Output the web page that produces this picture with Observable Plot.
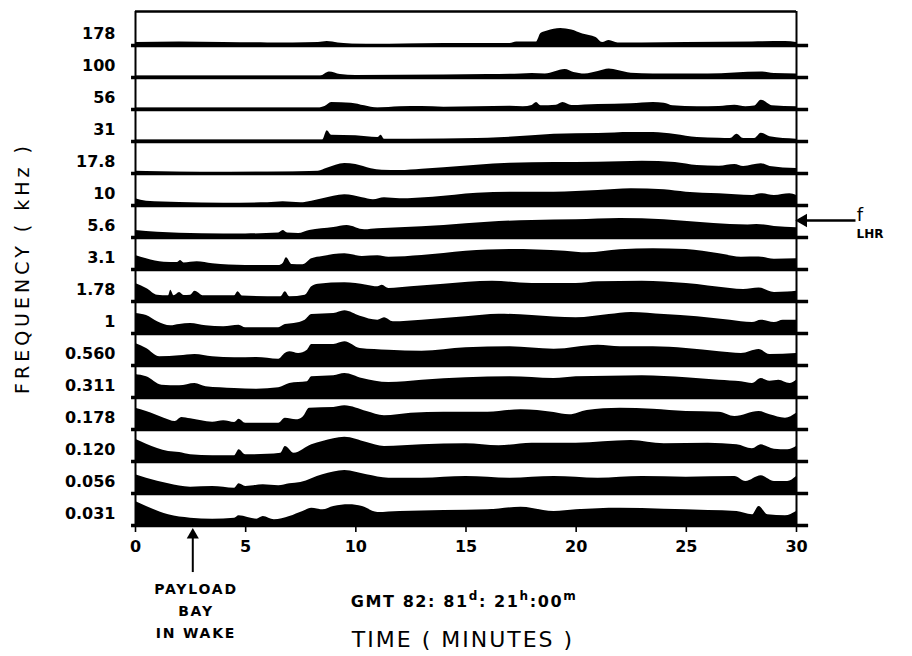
<!DOCTYPE html>
<html>
<head>
<meta charset="utf-8">
<script src="https://cdn.jsdelivr.net/npm/d3@7"></script>
<script src="https://cdn.jsdelivr.net/npm/@observablehq/plot@0.6"></script>
<style>
  html, body { margin: 0; padding: 0; background: #fff; }
  #chart { width: 912px; height: 656px; }
  svg text { font-family: "DejaVu Sans", sans-serif; }
</style>
</head>
<body>
<div id="chart"></div>
<script>
// Frequency channel labels (top to bottom), kHz
const freqLabels = ["178","100","56","31","17.8","10","5.6","3.1","1.78","1","0.560","0.311","0.178","0.120","0.056","0.031"];
// Time axis ticks (minutes)
const xTicks = [0, 5, 10, 15, 20, 25, 30];

// Relative wave intensity per channel: [time (min), level]
const s178 = [[0,3],[2,3.5],[4,3],[6,2.5],[8.3,3],[8.7,4],[9.2,2.5],[10.5,1],[11.5,1],[12.5,1.5],[14,2],[17,2],[17.3,3.5],[18.2,3.5],[18.4,12],[18.7,14.5],[19.3,17],[19.8,15.5],[20.3,11.5],[20.9,8],[21.2,3],[21.5,5],[21.9,2.5],[23,2.5],[25,3],[28,3.5],[29.5,4],[30,3]];
const s100 = [[0,1.5],[8.4,1.5],[8.8,5.5],[9.3,3],[10,2],[14,2.5],[16,3],[17.5,3.5],[18,4],[18.6,3.5],[19.5,8],[19.9,5],[20.4,3.5],[21,6],[21.5,8.5],[21.9,7],[22.5,4.3],[23.5,3.5],[26,3.5],[28.4,5.5],[29,4],[30,3.5]];
const s56 = [[0,1.5],[8.3,1.5],[8.6,3],[8.9,7],[9.8,6.3],[10.4,3.7],[11,1.5],[12,2.7],[13,3],[14,2.3],[15.5,2.7],[17,3.3],[17.6,2.7],[18,4],[18.2,7],[18.4,3.7],[19.1,4.3],[19.4,7],[19.8,4],[21,5],[22.5,5.7],[23.5,7],[24,6.3],[24.4,3.7],[25.5,2.7],[26.5,3],[27.2,4.3],[27.7,2.7],[28.1,3.5],[28.4,9.3],[28.9,3.7],[30,2.7]];
const s31 = [[0,1.5],[8.5,1.5],[8.7,10.7],[8.9,6.3],[10,5.7],[11,4],[11.15,6.3],[11.3,2.3],[12.5,2.3],[15.5,3],[16.5,3.7],[18,5.7],[19,7.3],[21,8],[22.5,9],[23.5,9],[24.5,7],[25.5,4],[26.5,3.3],[27,3],[27.3,7.3],[27.6,3],[28.1,3],[28.4,8.3],[28.8,4.7],[30,2.3]];
const s17_8 = [[0,2.3],[1,1.7],[3,1],[6,1.3],[8.3,2.3],[8.7,5.3],[9.5,10],[10,9],[10.7,4.7],[11.2,3.3],[12,3],[13,4.3],[14,5.7],[15.5,8.3],[17,10.3],[19,11],[21,11.3],[23,12.3],[24.5,11],[25.5,8],[26.5,7.3],[27.2,9],[27.6,7],[28.4,9.7],[28.8,7],[30,5]];
const s10 = [[0,6.7],[0.5,4.3],[2,3],[4,2.3],[6,2.7],[6.7,3.7],[7.5,2.7],[8,4.3],[8.5,6.7],[9.5,10.7],[10.3,7.7],[10.8,5.7],[11.3,7.7],[12,6.7],[13.5,8.3],[15.5,12.3],[17.5,13.3],[19,13.3],[21,15],[22.5,16.7],[24,15.7],[25,13.3],[26.5,11.7],[28,10],[28.4,11.7],[29,10],[29.7,11.7],[30,10]];
const s5_6 = [[0,7],[1,5.3],[3,3.7],[5,3.5],[6.5,4.5],[6.7,7],[6.9,4.5],[7.4,4],[7.9,7],[9,10],[9.6,12],[10.4,7.7],[11,8.7],[12,9.7],[14,12],[16,15.3],[18,17],[20,17.7],[22,19],[24,17.7],[25.5,15.3],[27,13],[27.8,12.5],[28.2,13],[29,11],[30,9.7]];
const s3_1 = [[0,14],[0.5,10.7],[1.3,7.3],[1.9,7],[2.05,9],[2.2,6.5],[2.8,7.7],[3.5,5.7],[5,4],[6.5,4],[6.7,6],[6.85,11.7],[7.1,5],[7.6,4.7],[8,10.7],[8.5,13],[9.5,15.7],[10.3,13],[11,13.7],[11.5,12.3],[13,14],[15,18.3],[17,20],[19.5,18.3],[20.5,16.7],[22,19.7],[23.5,20.7],[25,20],[26.5,15.7],[27.5,12.3],[28.3,12.5],[29,10.3],[30,10.7]];
const s1_78 = [[0,18],[0.5,13],[1,6.3],[1.5,5.7],[1.6,11.3],[1.75,5.7],[2,9],[2.2,6],[2.5,6.3],[2.7,10.3],[3.1,5.7],[4.5,5.7],[4.65,9.7],[4.85,5.5],[6.6,4.7],[6.8,9.7],[7,4.7],[7.7,6.3],[8,14.7],[8.3,17.3],[9.5,18.7],[10.5,16.3],[11,14.7],[11.2,16.3],[11.5,13],[12.5,14.7],[14,17.3],[16.2,20.3],[18,18],[20,18],[21,19.7],[23,20.3],[25,18],[27,13],[27.6,12],[28.3,13.5],[29,9],[29.6,9.5],[30,10.3]];
const s1 = [[0,20],[0.5,18],[1,11.7],[1.6,7.7],[2,9],[2.5,10],[3.2,7.7],[4,6.7],[4.7,8.3],[5,5.7],[6.5,5.7],[6.8,9],[7.2,10],[7.7,13.3],[8,19],[9,20],[9.5,22.7],[10.2,17.3],[11,13.3],[11.3,15.7],[11.7,11.7],[13,13.3],[15,16.7],[16.5,19.3],[18,18],[20,15.7],[21.5,19],[22.5,21],[24,19],[25.5,16.7],[27,13.3],[28,11],[28.4,13.3],[29,11],[29.4,13.3],[30,13.3]];
const s0_560 = [[0,22],[0.5,17],[1.1,8.7],[2,9.7],[2.7,11],[3.5,8.7],[4.5,7.7],[5.5,8],[6.5,6.3],[6.8,12],[7,13.7],[7.4,12],[7.8,15.3],[8,21],[9,21],[9.5,23.7],[10.2,17],[11.5,15.3],[13,14.3],[15,17.7],[17,18.7],[19,16.3],[21,20.3],[22,18.7],[23.5,18.7],[25,17],[26.5,13.7],[27.5,12],[28.3,16],[28.8,11],[30,12]];
const s0_311 = [[0,23],[0.5,20.7],[1.2,12.3],[2,11.7],[2.7,14],[3.2,10.7],[4.5,9],[5.5,8.3],[6.5,9.7],[7,14],[7.8,15.7],[8,20.7],[9,21.7],[9.5,24],[10.3,19],[11.5,15],[13,17.3],[15,19.7],[17,20.7],[19,19],[20,20.7],[21.5,21.3],[23,21.7],[25,19.7],[26.5,17.3],[27.5,15.7],[28,14],[28.4,19],[28.8,16.3],[29.2,17.3],[29.7,14],[30,17.3]];
const s0_178 = [[0,21.3],[0.5,18],[1.3,11.3],[1.8,8],[2.1,12],[2.5,10.7],[3.5,7.3],[4,8.7],[4.5,7],[4.7,10.3],[5,6.3],[6.5,6.3],[6.8,11.3],[7.3,9.7],[7.6,12.3],[7.9,21.3],[9,22],[9.5,23.7],[10.5,18],[11.3,13.7],[12.5,16.3],[14,17.3],[16,17.3],[17.5,19.7],[19,17],[19.7,14.7],[20.5,19],[22,21.3],[23.5,20.3],[25,18],[26.5,17.3],[27.2,13],[28.3,18],[28.8,14.7],[29.5,11.3],[30,16.3]];
const s0_120 = [[0,22.3],[0.5,17.3],[1.5,10],[2,9],[2.5,6.7],[3.5,5.7],[4.5,5.7],[4.7,11.7],[5,6.7],[6,7.3],[6.6,8.3],[6.8,15],[7.2,8.3],[8,16.7],[8.5,20],[9.5,24.3],[10.5,19],[11.3,15],[13,16.7],[15,17.7],[16.5,15.7],[18,18.3],[20,18.3],[22.5,21],[24,17.7],[26,18.3],[27.3,16.7],[28,12.7],[28.4,16.7],[29,12.3],[29.6,11.7],[30,15]];
const s0_056 = [[0,18.7],[0.5,15.3],[1.5,9.7],[2.5,6.3],[3.5,7],[4.5,5.3],[4.7,9.7],[5,7],[5.8,8.7],[6.5,7.7],[7,9.7],[7.5,11],[8.5,18.7],[9.5,23],[10.5,18.7],[11.5,15.3],[13,15.3],[15,17],[17,15.3],[19,17],[21,15.3],[23,17],[25,16.3],[27.2,17],[27.7,12],[28.4,17.7],[29,12],[29.6,12],[30,17]];
const s0_031 = [[0,24],[0.5,19],[1.5,10.7],[2.5,7.3],[3.5,6.3],[4.5,7.3],[4.7,9.7],[5.5,6.3],[5.8,9],[6.3,5.7],[7,9],[7.6,14],[8,17.3],[8.5,15.7],[9,19],[9.7,20.7],[10.3,19],[11,13],[12,14],[14,15],[16,15.7],[17.5,18.3],[19,14],[20,15.7],[22,17.3],[24,16.3],[26,15],[27.3,14],[28,10.7],[28.3,19],[28.7,10.7],[29.5,9.7],[30,14]];

const series = [s178, s100, s56, s31, s17_8, s10, s5_6, s3_1, s1_78, s1, s0_560, s0_311, s0_178, s0_120, s0_056, s0_031];
const LEVELS_PER_ROW = 32; // level units spanning one channel row
const nRows = series.length;
const pts = series.flatMap((s, i) => s.map(([t, v]) => ({
  row: i, t, base: nRows - 1 - i, top: nRows - 1 - i + v / LEVELS_PER_ROW
})));
const baselines = series.map((_, i) => nRows - 1 - i);
const yTop = 16.06;

const plot = Plot.plot({
  width: 912,
  height: 656,
  marginLeft: 135,
  marginRight: 116,
  marginTop: 11,
  marginBottom: 131,
  x: { domain: [0, 30] },
  y: { domain: [0, yTop], axis: null },
  style: { fontFamily: "DejaVu Sans", color: "#000", background: "#fff", overflow: "visible" },
  marks: [
    Plot.area(pts, { x1: "t", y1: "base", y2: "top", z: "row", fill: "#000", curve: "monotone-x" }),
    Plot.ruleY(baselines, { x1: -0.18, x2: 30.55, stroke: "#000", strokeWidth: 3.6 }),
    Plot.ruleY([yTop], { x1: 0, x2: 30, stroke: "#000", strokeWidth: 2.5 }),
    Plot.ruleX([0, 30], { y1: 0, y2: yTop, stroke: "#000", strokeWidth: 2 }),
    Plot.axisX({ ticks: xTicks, tickSize: 7, tickPadding: 8, fontSize: 16, fontWeight: "bold", label: null, strokeWidth: 1.6 }),
    Plot.text(freqLabels, { x: 0, y: (d, i) => nRows - 1 - i + 0.375, text: d => d, dx: -20, textAnchor: "end", fontSize: 16, fontWeight: "bold", fill: "#000" }),
    // payload-bay arrow (points up to the time axis)
    Plot.ruleX([2.6], { y1: -1.47, y2: -0.33, stroke: "#000", strokeWidth: 2 }),
    Plot.dot([2.6], { x: d => d, y: -0.3, symbol: "triangle", r: 4.5, fill: "#000", stroke: "none" }),
    // f_LHR arrow
    Plot.ruleY([9.53], { x1: 30.45, x2: 32.7, stroke: "#000", strokeWidth: 2.5 }),
    Plot.dot([9.53], { x: 30.3, y: d => d, symbol: "triangle", rotate: -90, r: 5, fill: "#000", stroke: "none" })
  ]
});

document.getElementById("chart").appendChild(plot);

// Annotation text
const svg = d3.select(plot);
const g = svg.append("g").attr("fill", "#000").style("font-family", "DejaVu Sans, sans-serif");

g.append("text")
  .attr("transform", "translate(22,268) rotate(-90)")
  .attr("text-anchor", "middle").attr("dominant-baseline", "central")
  .attr("font-size", 19).attr("letter-spacing", 4)
  .text("FREQUENCY ( kHz )");

[["PAYLOAD", 589], ["BAY", 611], ["IN WAKE", 633]].forEach(([s, y]) => {
  g.append("text").attr("x", 196).attr("y", y)
    .attr("text-anchor", "middle").attr("dominant-baseline", "central")
    .attr("font-size", 14).attr("font-weight", "bold").attr("letter-spacing", 1.8).text(s);
});

const gmt = g.append("text").attr("x", 464).attr("y", 607)
  .attr("text-anchor", "middle").attr("font-size", 16).attr("font-weight", "bold").attr("letter-spacing", 1.6);
gmt.append("tspan").text("GMT 82: 81");
gmt.append("tspan").attr("dy", -7).attr("font-size", 12).text("d");
gmt.append("tspan").attr("dy", 7).text(": 21");
gmt.append("tspan").attr("dy", -7).attr("font-size", 12).text("h");
gmt.append("tspan").attr("dy", 7).text(":00");
gmt.append("tspan").attr("dy", -7).attr("font-size", 12).text("m");

g.append("text").attr("x", 463).attr("y", 647)
  .attr("text-anchor", "middle").attr("font-size", 22).attr("letter-spacing", 2)
  .text("TIME ( MINUTES )");

g.append("text").attr("x", 860).attr("y", 221).attr("font-size", 18).text("f");
g.append("text").attr("x", 870).attr("y", 238).attr("font-size", 12).attr("font-weight", "bold").text("LHR");
</script>
</body>
</html>
